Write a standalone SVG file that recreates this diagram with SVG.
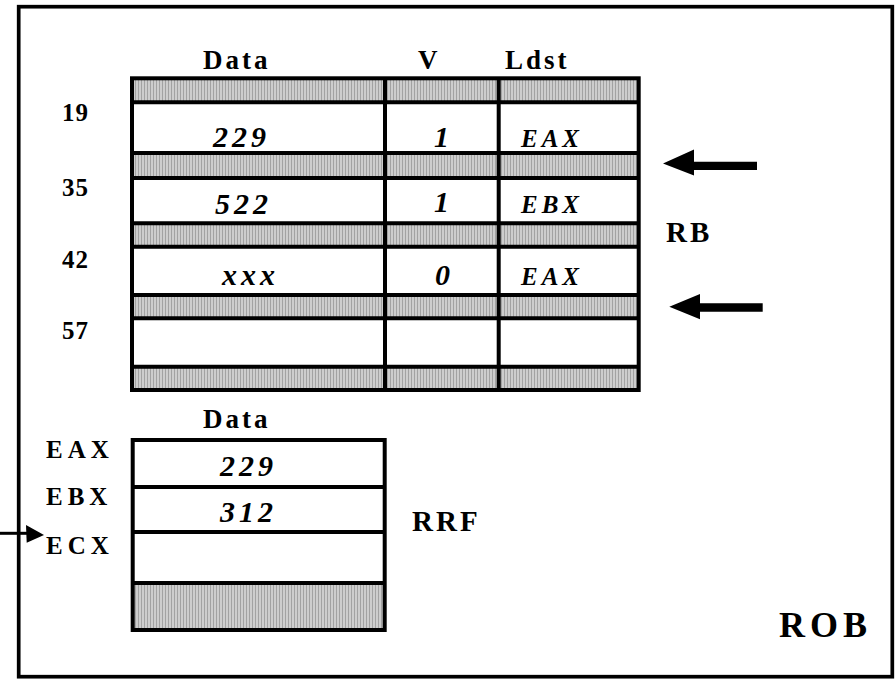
<svg xmlns="http://www.w3.org/2000/svg" width="895" height="679" viewBox="0 0 895 679">
<defs>
<pattern id="hatch" width="3" height="4" patternUnits="userSpaceOnUse">
<rect width="3" height="4" fill="#cdcdcd"/>
<rect width="1" height="4" fill="#a2a2a2"/>
</pattern>
</defs>
<style>
.ln{stroke:#000;stroke-width:4;fill:none}
.hat{fill:url(#hatch)}
.t{font-family:"Liberation Serif","Times New Roman",serif;font-weight:bold;fill:#000}
.hd{font-size:27px;letter-spacing:3px}
.lbl{font-size:25px;letter-spacing:1px}
.rl{font-size:25px;letter-spacing:5px}
.val{font-size:30px;font-style:italic;letter-spacing:4px}
.reg{font-size:25px;font-style:italic;letter-spacing:4px}
.big{font-size:29px;letter-spacing:3px}
.arr{fill:#000}
</style>
<g id="rob">
<rect x="18.7" y="6.7" width="873.6" height="670" fill="#fff" stroke="#000" stroke-width="3.7"/>
<text class="t" x="779" y="637" style="font-size:36px;letter-spacing:5px">ROB</text>
</g>
<g id="rb">
<rect class="hat" x="132" y="78.3" width="506.7" height="24"/>
<rect class="hat" x="132" y="153" width="506.7" height="25"/>
<rect class="hat" x="132" y="223.3" width="506.7" height="23.4"/>
<rect class="hat" x="132" y="295" width="506.7" height="23.3"/>
<rect class="hat" x="132" y="366.7" width="506.7" height="23.3"/>
<rect class="ln" x="132" y="78.3" width="506.7" height="311.7"/>
<path class="ln" d="M132 102.3H638.7M132 153H638.7M132 178H638.7M132 223.3H638.7M132 246.7H638.7M132 295H638.7M132 318.3H638.7M132 366.7H638.7M385 78.3V390M498.7 78.3V390"/>
<text class="t hd" x="203" y="69">Data</text>
<text class="t hd" x="418" y="69">V</text>
<text class="t hd" x="505" y="69">Ldst</text>
<text class="t lbl" x="62" y="121">19</text>
<text class="t lbl" x="62" y="196">35</text>
<text class="t lbl" x="62" y="268">42</text>
<text class="t lbl" x="62" y="339">57</text>
<text class="t val" x="213" y="147">229</text>
<text class="t val" x="215" y="214">522</text>
<text class="t val" x="222" y="285">xxx</text>
<text class="t val" x="434" y="147">1</text>
<text class="t val" x="434" y="212">1</text>
<text class="t val" x="435" y="285">0</text>
<text class="t reg" x="521" y="147">EAX</text>
<text class="t reg" x="521" y="213">EBX</text>
<text class="t reg" x="521" y="285">EAX</text>
<text class="t big" x="666" y="242">RB</text>
</g>
<g id="rrf">
<rect class="hat" x="132.7" y="583" width="252" height="47"/>
<rect class="ln" x="132.7" y="440" width="252" height="190"/>
<path class="ln" d="M132.7 487H384.7M132.7 532H384.7M132.7 583H384.7"/>
<text class="t hd" x="203" y="428">Data</text>
<text class="t rl" x="46" y="458">EAX</text>
<text class="t rl" x="46" y="505">EBX</text>
<text class="t rl" x="46" y="554">ECX</text>
<text class="t val" x="220" y="476">229</text>
<text class="t val" x="220" y="522">312</text>
<text class="t big" x="412" y="531">RRF</text>
</g>
<g id="connectors">
<path class="arr" d="M663 163.5L694 149.5V161.7H757V170H694V175.5Z"/>
<path class="arr" d="M669.3 306.7L700 294V303.3H762.7V311.7H700V319.3Z"/>
<path d="M0 533.3H30" stroke="#000" stroke-width="3"/>
<path class="arr" d="M26 525L44 535L26.7 542.7Z"/>
</g>
</svg>
